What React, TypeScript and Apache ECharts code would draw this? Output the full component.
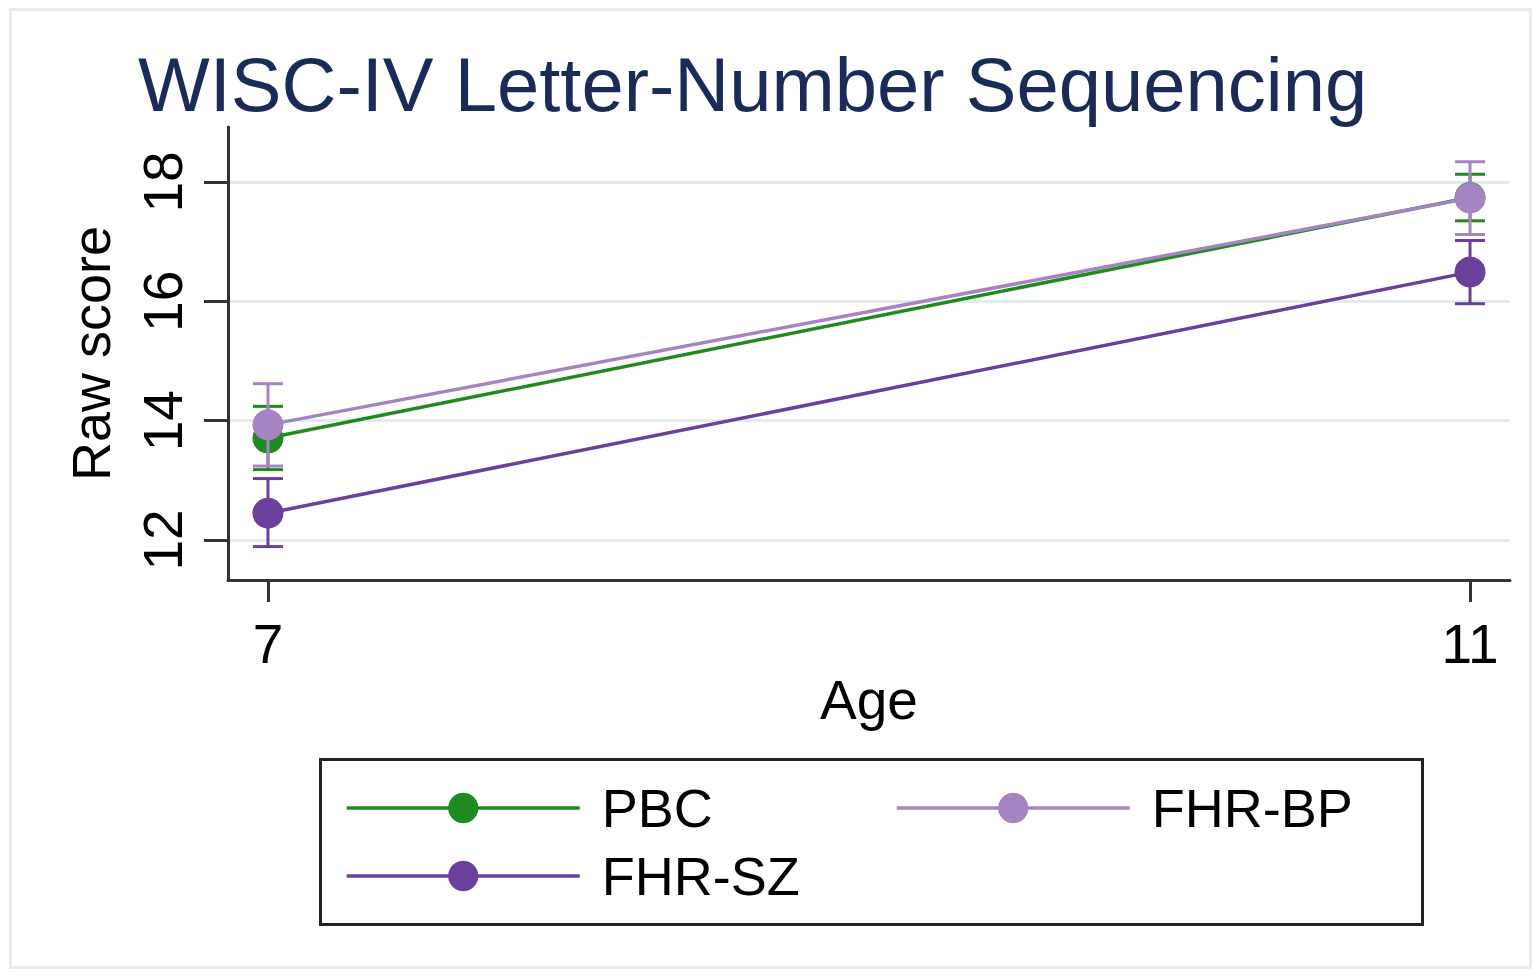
import React, { useEffect, useRef } from "react";
import * as echarts from "echarts";

const ages = [7, 11];
const xTicks = [7, 11];
const yTicks = [12, 14, 16, 18];
const seriesNames = ["PBC", "FHR-BP", "FHR-SZ"];
const pbcMean = [13.71, 17.74];
const pbcLow = [13.18, 17.35];
const pbcHigh = [14.24, 18.13];
const bpMean = [13.93, 17.73];
const bpLow = [13.24, 17.12];
const bpHigh = [14.62, 18.34];
const szMean = [12.45, 16.49];
const szLow = [11.89, 15.96];
const szHigh = [13.03, 17.02];

const colors = ["#1f8a1f", "#a684c4", "#6b3f9c"];
const FONT = "'Liberation Sans', Arial, sans-serif";

export default function App() {
  const ref = useRef<HTMLDivElement>(null);
  useEffect(() => {
    document.body.style.margin = "0";
    const chart = echarts.init(ref.current!, null, { renderer: "svg" });
    const groups = [
      { name: seriesNames[0], mean: pbcMean, low: pbcLow, high: pbcHigh, color: colors[0], z: 2 },
      { name: seriesNames[2], mean: szMean, low: szLow, high: szHigh, color: colors[2], z: 3 },
      { name: seriesNames[1], mean: bpMean, low: bpLow, high: bpHigh, color: colors[1], z: 4 },
    ];
    const series: any[] = [];
    groups.forEach((g) => {
      series.push({
        type: "line",
        name: g.name,
        z: g.z,
        data: ages.map((a, i) => [a, g.mean[i]]),
        symbol: "circle",
        symbolSize: 31,
        lineStyle: { color: g.color, width: 3.5 },
        itemStyle: { color: g.color },
        ...(g.name === "PBC"
          ? {
              markLine: {
                silent: true,
                symbol: "none",
                label: { show: false },
                lineStyle: { color: "#e2ecee", width: 3, type: "solid" },
                z: 0,
                data: yTicks.map((v) => ({ yAxis: v })),
              },
            }
          : {}),
      });
      series.push({
        type: "custom",
        name: g.name + " CI",
        z: g.z,
        silent: true,
        data: ages.map((a, i) => [a, g.low[i], g.high[i]]),
        renderItem: (params: any, api: any) => {
          const lo = api.coord([api.value(0), api.value(1)]);
          const hi = api.coord([api.value(0), api.value(2)]);
          const hw = 15;
          const st = { stroke: g.color, lineWidth: 3 };
          return {
            type: "group",
            children: [
              { type: "line", shape: { x1: lo[0], y1: lo[1], x2: hi[0], y2: hi[1] }, style: st },
              { type: "line", shape: { x1: lo[0] - hw, y1: lo[1], x2: lo[0] + hw, y2: lo[1] }, style: st },
              { type: "line", shape: { x1: hi[0] - hw, y1: hi[1], x2: hi[0] + hw, y2: hi[1] }, style: st },
            ],
          };
        },
      });
    });

    const legendPos = [
      { name: "PBC", left: 345, top: 781 },
      { name: "FHR-BP", left: 895, top: 781 },
      { name: "FHR-SZ", left: 345, top: 849 },
    ];

    chart.setOption({
      animation: false,
      backgroundColor: "#ffffff",
      textStyle: { fontFamily: FONT },
      title: {
        text: "WISC-IV Letter-Number Sequencing",
        left: 138,
        top: 46,
        padding: 0,
        textStyle: { fontFamily: FONT, fontSize: 76, fontWeight: "normal", color: "#1b2b58" },
      },
      grid: { left: 228, right: 24, top: 127, bottom: 392 },
      xAxis: {
        type: "value",
        min: 6.867,
        max: 11.133,
        name: "Age",
        nameLocation: "middle",
        nameGap: 92,
        nameTextStyle: { fontFamily: FONT, fontSize: 55, color: "#000" },
        axisLine: { lineStyle: { color: "#333", width: 3 } },
        axisTick: { show: true, length: 22, lineStyle: { color: "#333", width: 3 }, customValues: xTicks },
        axisLabel: { customValues: xTicks, fontSize: 55, color: "#000", margin: 36, fontFamily: FONT },
        splitLine: { show: false },
      },
      yAxis: {
        type: "value",
        min: 11.33,
        max: 18.922,
        name: "Raw score",
        nameLocation: "middle",
        nameGap: 110,
        nameRotate: 90,
        nameTextStyle: { fontFamily: FONT, fontSize: 54, color: "#000" },
        axisLine: { show: true, lineStyle: { color: "#333", width: 3 } },
        axisTick: { show: true, length: 24, lineStyle: { color: "#333", width: 3 }, customValues: yTicks },
        axisLabel: { customValues: yTicks, fontSize: 55, color: "#000", margin: 38, rotate: 90, fontFamily: FONT },
        splitLine: { show: false },
      },
      legend: legendPos.map((p) => ({
        data: [p.name],
        left: p.left,
        top: p.top,
        padding: 0,
        itemWidth: 233,
        itemHeight: 38,
        selectedMode: false,
        lineStyle: { width: 3.5 },
        textStyle: { fontFamily: FONT, fontSize: 54, color: "#000", padding: [0, 0, 0, 17] },
      })),
      graphic: [
        {
          type: "rect",
          left: 8,
          top: 7,
          shape: { width: 1520, height: 958 },
          style: { fill: "none", stroke: "#e4eef0", lineWidth: 3 },
          silent: true,
          z: -1,
        },
        {
          type: "rect",
          left: 318,
          top: 757,
          shape: { width: 1102, height: 165 },
          style: { fill: "none", stroke: "#222", lineWidth: 3 },
          silent: true,
        },
      ],
      series,
    });
    return () => chart.dispose();
  }, []);
  return <div ref={ref} style={{ width: 1534, height: 972 }} />;
}
